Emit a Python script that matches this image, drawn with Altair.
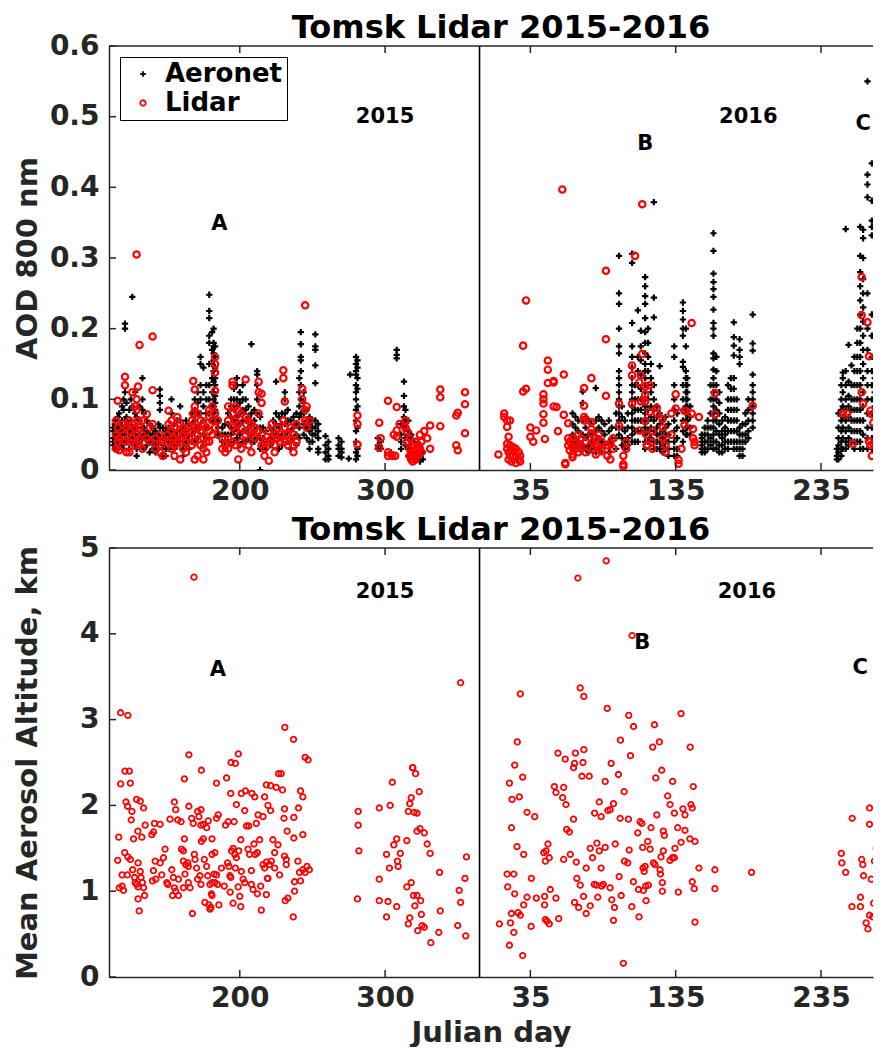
import altair as alt
import pandas as pd

YEAR_SHIFT = 365  # 2016 day d is plotted at d + 365

# ---------------- Top panel: AOD 800 nm ----------------
# Aeronet 2015: (day, [AOD values])
AER_2015 = [
    (113, [0.045, 0.055, 0.06, 0.04, 0.035]), (114, [0.07, 0.05, 0.065, 0.03]),
    (116, [0.048, 0.06, 0.075, 0.04, 0.03]), (117, [0.055, 0.08, 0.065, 0.045]),
    (119, [0.09, 0.06, 0.05, 0.07, 0.035]), (120, [0.1, 0.085, 0.06, 0.04, 0.03]),
    (121, [0.207, 0.2, 0.11, 0.07, 0.05, 0.045]), (122, [0.095, 0.075, 0.06, 0.04]),
    (124, [0.085, 0.065, 0.05, 0.03]), (125, [0.1, 0.07, 0.055, 0.04]),
    (126, [0.245, 0.09, 0.06, 0.045]), (128, [0.11, 0.08, 0.06, 0.05, 0.035]),
    (129, [0.075, 0.06, 0.04, 0.03, 0.02]), (131, [0.09, 0.07, 0.05, 0.04]),
    (133, [0.13, 0.1, 0.085, 0.06, 0.045]), (134, [0.08, 0.06, 0.05, 0.03]),
    (136, [0.07, 0.055, 0.045, 0.035]), (138, [0.065, 0.05, 0.04, 0.025]),
    (140, [0.06, 0.05, 0.04, 0.03]), (142, [0.055, 0.045, 0.035, 0.025]),
    (144, [0.065, 0.05, 0.04, 0.03]), (145, [0.114, 0.105, 0.095, 0.085, 0.06, 0.045]),
    (147, [0.06, 0.045, 0.035, 0.02]), (149, [0.055, 0.045, 0.03, 0.02]),
    (151, [0.06, 0.05, 0.04, 0.03]), (153, [0.1, 0.08, 0.055, 0.045, 0.035]),
    (155, [0.065, 0.05, 0.04, 0.03]), (157, [0.07, 0.055, 0.045, 0.035]),
    (159, [0.09, 0.07, 0.055, 0.04]), (161, [0.06, 0.05, 0.04, 0.03, 0.02]),
    (163, [0.07, 0.055, 0.045, 0.035]), (165, [0.065, 0.05, 0.04, 0.03]),
    (167, [0.08, 0.065, 0.05, 0.04]), (169, [0.1, 0.085, 0.07, 0.055, 0.04]),
    (171, [0.11, 0.095, 0.08, 0.06, 0.045]), (173, [0.16, 0.15, 0.12, 0.1, 0.08, 0.06]),
    (175, [0.145, 0.11, 0.09, 0.07, 0.05, 0.035]), (177, [0.12, 0.1, 0.08, 0.06, 0.045]),
    (179, [0.248, 0.225, 0.215, 0.19, 0.18, 0.15, 0.12, 0.1, 0.08]),
    (181, [0.195, 0.17, 0.15, 0.13, 0.11, 0.09, 0.07]),
    (182, [0.2, 0.18, 0.175, 0.165, 0.155, 0.14, 0.125, 0.11, 0.1, 0.09, 0.08]),
    (183, [0.175, 0.16, 0.145, 0.13, 0.12, 0.105, 0.095, 0.085, 0.07]),
    (185, [0.07, 0.06, 0.05]), (188, [0.06, 0.05, 0.04]), (190, [0.065, 0.05, 0.04, 0.03]),
    (192, [0.08, 0.065, 0.05, 0.04]), (194, [0.1, 0.09, 0.075, 0.06, 0.05, 0.035]),
    (196, [0.115, 0.1, 0.085, 0.07, 0.055, 0.04]), (198, [0.13, 0.12, 0.1, 0.09, 0.075, 0.06, 0.045]),
    (200, [0.11, 0.095, 0.08, 0.065, 0.05, 0.035]), (202, [0.12, 0.1, 0.085, 0.07, 0.055, 0.04]),
    (204, [0.1, 0.085, 0.07, 0.055, 0.04]), (206, [0.09, 0.075, 0.06, 0.045]),
    (208, [0.178, 0.08, 0.065, 0.05, 0.04]), (210, [0.085, 0.07, 0.055, 0.04]),
    (212, [0.14, 0.135, 0.12, 0.1, 0.08, 0.06, 0.045]), (214, [0.075, 0.06, 0.045, 0.03, 0.0]),
    (216, [0.06, 0.045, 0.035]), (218, [0.055, 0.04, 0.03]), (221, [0.06, 0.045, 0.035]),
    (223, [0.07, 0.055, 0.04]), (225, [0.125, 0.08, 0.065, 0.05]), (227, [0.075, 0.06, 0.045, 0.03]),
    (229, [0.08, 0.065, 0.05, 0.035]), (231, [0.11, 0.1, 0.08, 0.065, 0.05]),
    (233, [0.085, 0.07, 0.055, 0.04]), (235, [0.07, 0.055, 0.04, 0.03]), (237, [0.075, 0.06, 0.045]),
    (239, [0.08, 0.065, 0.05, 0.035]), (241, [0.13, 0.11, 0.09, 0.075, 0.06, 0.045]),
    (242, [0.195, 0.178, 0.16, 0.155, 0.14, 0.12, 0.1, 0.08]), (244, [0.11, 0.095, 0.08, 0.065, 0.05]),
    (246, [0.085, 0.07, 0.06, 0.045]), (248, [0.075, 0.065, 0.055, 0.04, 0.03]),
    (250, [0.07, 0.06, 0.05, 0.04]), (252, [0.192, 0.175, 0.17, 0.148, 0.123, 0.07, 0.06, 0.05]),
    (254, [0.065, 0.055, 0.045, 0.03, 0.025]), (259, [0.048, 0.035, 0.025, 0.015]),
    (261, [0.04, 0.03, 0.02, 0.015]), (268, [0.045, 0.035, 0.03, 0.02]),
    (270, [0.04, 0.03, 0.025, 0.018]), (275, [0.016]), (276, [0.135]),
    (280, [0.16, 0.15, 0.14, 0.135, 0.12, 0.11, 0.1, 0.085, 0.07, 0.055, 0.04, 0.025, 0.015]),
    (281, [0.155, 0.145, 0.13, 0.115, 0.09, 0.06, 0.03, 0.02]),
    (295, [0.045, 0.035, 0.03]), (297, [0.04, 0.03]), (304, [0.025, 0.02]),
    (308, [0.17, 0.163, 0.158]), (311, [0.065, 0.05, 0.04, 0.03]),
    (313, [0.125, 0.105, 0.09, 0.075, 0.06]), (314, [0.085, 0.07, 0.06, 0.045, 0.035]),
    (316, [0.07, 0.055, 0.045, 0.03, 0.02]), (318, [0.05, 0.04, 0.03, 0.02]),
    (320, [0.04, 0.03, 0.02, 0.015]), (322, [0.035, 0.025, 0.015]),
    (324, [0.03, 0.02, 0.012]), (326, [0.025, 0.015]),
]

# Aeronet 2016: (day, [AOD values])
AER_2016 = [
    (64, [0.08, 0.065, 0.05, 0.04, 0.03]), (66, [0.075, 0.06, 0.045, 0.035]),
    (68, [0.07, 0.055, 0.04, 0.03]), (71, [0.111, 0.095, 0.07, 0.05, 0.035]),
    (73, [0.075, 0.06, 0.045, 0.03]), (75, [0.07, 0.05, 0.035, 0.025]),
    (77, [0.065, 0.05, 0.04, 0.03]), (80, [0.116, 0.07, 0.055, 0.04, 0.025]),
    (82, [0.075, 0.06, 0.045, 0.03]), (84, [0.07, 0.055, 0.04, 0.025]),
    (86, [0.065, 0.05, 0.035]), (89, [0.07, 0.055, 0.04, 0.025]), (91, [0.06, 0.045, 0.035]),
    (94, [0.08, 0.06, 0.045, 0.03]),
    (96, [0.303, 0.25, 0.235, 0.2, 0.175, 0.165, 0.14, 0.13, 0.12, 0.11, 0.1, 0.09, 0.08, 0.07, 0.06, 0.05]),
    (98, [0.09, 0.075, 0.06, 0.045, 0.035]), (100, [0.07, 0.055, 0.04, 0.03]),
    (102, [0.08, 0.06, 0.045, 0.035]),
    (105, [0.306, 0.293, 0.208, 0.175, 0.16, 0.145, 0.13, 0.12, 0.11, 0.1, 0.09, 0.08, 0.07, 0.06, 0.05, 0.04]),
    (107, [0.12, 0.1, 0.085, 0.07, 0.055, 0.04]),
    (109, [0.226, 0.16, 0.14, 0.12, 0.1, 0.085, 0.07, 0.055, 0.04]),
    (111, [0.197, 0.175, 0.155, 0.135, 0.115, 0.1, 0.085, 0.07, 0.055]),
    (114, [0.273, 0.26, 0.246, 0.235, 0.215, 0.195, 0.18, 0.165, 0.15, 0.14, 0.13, 0.12, 0.11,
           0.1, 0.09, 0.08, 0.07, 0.06, 0.05, 0.04, 0.03]),
    (116, [0.2, 0.18, 0.16, 0.14, 0.12, 0.1, 0.085, 0.07, 0.055, 0.04]),
    (118, [0.15, 0.13, 0.11, 0.09, 0.075, 0.06, 0.045]),
    (120, [0.379, 0.244, 0.216, 0.12, 0.1, 0.085, 0.07, 0.055, 0.04, 0.03]),
    (122, [0.09, 0.075, 0.06, 0.05, 0.04, 0.03]), (124, [0.147, 0.08, 0.065, 0.05, 0.04, 0.03]),
    (126, [0.07, 0.055, 0.045, 0.035, 0.025]), (128, [0.075, 0.06, 0.05, 0.04, 0.03]),
    (130, [0.065, 0.05, 0.04, 0.03, 0.02]),
    (134, [0.175, 0.16, 0.12, 0.1, 0.085, 0.07, 0.055, 0.04, 0.03, 0.02]),
    (136, [0.08, 0.06, 0.045, 0.03, 0.02]),
    (140, [0.237, 0.225, 0.213, 0.2, 0.19, 0.153, 0.146, 0.12, 0.1, 0.085, 0.07, 0.055, 0.04]),
    (142, [0.2, 0.175, 0.14, 0.13, 0.12, 0.11, 0.1, 0.09, 0.08, 0.07, 0.06, 0.05]),
    (143, [0.13, 0.12, 0.11, 0.1, 0.09, 0.08, 0.07, 0.06, 0.05]),
    (145, [0.09, 0.075, 0.06, 0.05]), (153, [0.05, 0.045, 0.04, 0.035, 0.03, 0.025]),
    (155, [0.06, 0.05, 0.04, 0.03, 0.025]), (157, [0.07, 0.06, 0.05, 0.04, 0.03]),
    (159, [0.12, 0.1, 0.08, 0.06, 0.045, 0.035]),
    (161, [0.335, 0.31, 0.278, 0.266, 0.256, 0.245, 0.227, 0.208, 0.2, 0.19, 0.165, 0.158, 0.142,
           0.13, 0.12, 0.11, 0.1, 0.09, 0.08, 0.07, 0.06, 0.05, 0.04, 0.03]),
    (163, [0.16, 0.14, 0.12, 0.1, 0.085, 0.07, 0.055, 0.04, 0.03]),
    (165, [0.11, 0.095, 0.08, 0.065, 0.05, 0.035, 0.025]), (167, [0.07, 0.055, 0.045, 0.035, 0.025]),
    (169, [0.075, 0.06, 0.05, 0.04, 0.03]), (171, [0.12, 0.1, 0.085, 0.07, 0.055, 0.04, 0.03]),
    (173, [0.13, 0.115, 0.1, 0.085, 0.07, 0.055, 0.04]),
    (175, [0.209, 0.188, 0.176, 0.162, 0.13, 0.115, 0.1, 0.085, 0.07, 0.055, 0.04, 0.03]),
    (177, [0.1, 0.085, 0.07, 0.055, 0.04, 0.03]),
    (179, [0.185, 0.17, 0.16, 0.15, 0.06, 0.05, 0.04, 0.03, 0.02]),
    (181, [0.065, 0.05, 0.04, 0.03, 0.02]), (183, [0.08, 0.065, 0.05, 0.04]),
    (185, [0.1, 0.085, 0.07, 0.055, 0.045]),
    (188, [0.22, 0.179, 0.169, 0.135, 0.12, 0.11, 0.1, 0.09, 0.08, 0.07, 0.06]),
    (246, [0.03, 0.02, 0.015]), (247, [0.08, 0.06, 0.045, 0.035, 0.025, 0.015]),
    (249, [0.12, 0.1, 0.085, 0.07, 0.055, 0.04, 0.03, 0.02]),
    (250, [0.138, 0.13, 0.11, 0.09, 0.075, 0.06, 0.045, 0.03]),
    (252, [0.341, 0.14, 0.12, 0.1, 0.085, 0.07, 0.055, 0.04, 0.03]),
    (254, [0.177, 0.125, 0.105, 0.09, 0.075, 0.06, 0.045, 0.035]),
    (256, [0.148, 0.12, 0.1, 0.085, 0.07, 0.055, 0.04]),
    (258, [0.16, 0.14, 0.12, 0.1, 0.085, 0.07, 0.055, 0.04, 0.03]),
    (260, [0.2, 0.18, 0.16, 0.14, 0.12, 0.1, 0.085, 0.07, 0.055, 0.04]),
    (262, [0.344, 0.303, 0.28, 0.26, 0.24, 0.22, 0.2, 0.18, 0.16, 0.14, 0.12, 0.1, 0.085, 0.07,
           0.055, 0.04, 0.03]),
    (264, [0.34, 0.328, 0.3, 0.27, 0.25, 0.23, 0.21, 0.19, 0.17, 0.15, 0.13, 0.11, 0.09, 0.07, 0.05, 0.03]),
    (267, [0.55, 0.418, 0.404, 0.386, 0.25, 0.2, 0.17, 0.14, 0.12, 0.1, 0.08, 0.06, 0.045, 0.03]),
    (270, [0.434, 0.381, 0.353, 0.344, 0.332, 0.22, 0.19, 0.16, 0.14, 0.12, 0.1, 0.08, 0.06, 0.045, 0.03]),
    (272, [0.13, 0.11, 0.09, 0.075, 0.06, 0.045, 0.035, 0.025]),
]

# Lidar 2015: (day, [AOD values])
LID_2015 = [
    (115, [0.07, 0.05, 0.03]), (116, [0.098, 0.06, 0.04]), (117, [0.045, 0.028]),
    (120, [0.065, 0.05]), (121, [0.132, 0.12, 0.04]), (122, [0.06, 0.025]),
    (124, [0.07, 0.055, 0.04, 0.025]), (126, [0.11, 0.065, 0.045]), (128, [0.09, 0.06, 0.035]),
    (129, [0.305, 0.1, 0.085, 0.05]), (130, [0.118, 0.07]), (131, [0.177, 0.06, 0.045, 0.035]),
    (133, [0.07, 0.05, 0.03]), (136, [0.079, 0.045]), (138, [0.06, 0.04]),
    (140, [0.189, 0.113, 0.065]), (142, [0.045, 0.03]), (145, [0.05, 0.035, 0.025]),
    (147, [0.02, 0.04]), (150, [0.05, 0.04]), (151, [0.084, 0.065]), (153, [0.07, 0.055, 0.03]),
    (155, [0.06, 0.045, 0.035, 0.02]), (157, [0.075, 0.05, 0.04]), (159, [0.065, 0.045, 0.015]),
    (161, [0.06, 0.05, 0.03]), (163, [0.055, 0.04, 0.025]), (165, [0.06, 0.045]),
    (167, [0.07, 0.055, 0.035]), (168, [0.126, 0.08]), (169, [0.114, 0.09, 0.06, 0.04, 0.015]),
    (171, [0.08, 0.06, 0.05, 0.02]), (173, [0.07, 0.055, 0.035]), (175, [0.065, 0.045, 0.03, 0.015]),
    (177, [0.06, 0.04, 0.025]), (179, [0.085, 0.075, 0.055, 0.04]), (181, [0.09, 0.07, 0.05]),
    (183, [0.16, 0.15, 0.138, 0.112, 0.08, 0.06]), (185, [0.07, 0.05]), (188, [0.045, 0.03]),
    (190, [0.035, 0.025]), (192, [0.09, 0.07, 0.045, 0.03]), (195, [0.125, 0.12, 0.08, 0.06, 0.04]),
    (197, [0.09, 0.07, 0.055, 0.035]), (199, [0.085, 0.065, 0.015]), (201, [0.08, 0.06, 0.04, 0.03]),
    (204, [0.128, 0.075, 0.05]), (206, [0.07, 0.055, 0.035]), (208, [0.065, 0.05, 0.025]),
    (210, [0.06, 0.045]), (213, [0.125, 0.11, 0.08, 0.055]), (215, [0.108, 0.095, 0.05, 0.035]),
    (217, [0.04, 0.03, 0.02]), (220, [0.055, 0.04, 0.013]), (222, [0.065, 0.045]),
    (224, [0.05, 0.035, 0.025]), (226, [0.06, 0.045]), (228, [0.05, 0.04]),
    (230, [0.141, 0.13, 0.07]), (231, [0.097, 0.06, 0.04]), (233, [0.05, 0.035]),
    (235, [0.06, 0.045]), (237, [0.05, 0.035, 0.025]), (239, [0.065, 0.04]),
    (243, [0.115, 0.1]), (245, [0.233, 0.085, 0.07]), (246, [0.09, 0.06]), (248, [0.07]),
    (281, [0.077, 0.065, 0.036]), (296, [0.067, 0.032]), (297, [0.045]),
    (302, [0.098, 0.025, 0.02]), (305, [0.02]), (306, [0.05]), (307, [0.02]),
    (308, [0.089, 0.056, 0.047]), (310, [0.065]), (314, [0.07, 0.06]), (315, [0.055, 0.04]),
    (317, [0.045, 0.03, 0.02]), (318, [0.025, 0.015]), (319, [0.035, 0.02, 0.012]),
    (320, [0.028, 0.018]), (321, [0.04, 0.025, 0.015]), (322, [0.03, 0.02]),
    (323, [0.035, 0.022]), (324, [0.05, 0.03]), (325, [0.04, 0.025]), (327, [0.055]),
    (329, [0.045]), (331, [0.063, 0.03]), (338, [0.114, 0.103, 0.062]),
    (349, [0.077, 0.035]), (350, [0.081, 0.028]), (355, [0.11, 0.093, 0.052]),
]

# Lidar 2016: (day, [AOD values])
LID_2016 = [
    (13, [0.022]), (17, [0.08, 0.075]), (19, [0.07, 0.061, 0.037, 0.03]), (20, [0.047, 0.025, 0.015]),
    (21, [0.07, 0.035, 0.02]), (22, [0.028, 0.012]), (23, [0.032, 0.02]), (25, [0.03, 0.018, 0.01]),
    (27, [0.025, 0.015]), (28, [0.02, 0.012]), (30, [0.176, 0.111]), (32, [0.24, 0.115]),
    (35, [0.06, 0.047]), (37, [0.04]), (39, [0.056]), (44, [0.107, 0.1, 0.094, 0.079, 0.067]),
    (45, [0.044]), (47, [0.142, 0.155, 0.123]), (51, [0.124, 0.126, 0.09]), (53, [0.089]),
    (54, [0.055]), (57, [0.397]), (58, [0.135, 0.078]), (59, [0.008, 0.01]),
    (61, [0.066, 0.045, 0.035]), (62, [0.028, 0.04]), (64, [0.032, 0.045, 0.022, 0.018]),
    (66, [0.04, 0.03]), (68, [0.05, 0.035, 0.025]), (70, [0.045, 0.03]),
    (72, [0.116, 0.091, 0.075, 0.07]), (73, [0.04, 0.025]), (77, [0.13, 0.068, 0.058, 0.052]),
    (78, [0.04, 0.03]), (80, [0.045, 0.035, 0.022]), (82, [0.05, 0.03]), (84, [0.04, 0.028]),
    (87, [0.282, 0.185, 0.105]), (88, [0.035, 0.02]), (90, [0.038, 0.015]), (92, [0.045, 0.03]),
    (96, [0.063, 0.094]), (99, [0.005, 0.008, 0.02]), (101, [0.04, 0.03]),
    (105, [0.094, 0.148, 0.134]), (107, [0.303]), (110, [0.124, 0.056]), (111, [0.097, 0.134]),
    (112, [0.164, 0.376]), (114, [0.069, 0.107, 0.118, 0.097]), (115, [0.05, 0.035]),
    (117, [0.12, 0.082]), (119, [0.04, 0.03, 0.055]), (122, [0.088, 0.08]),
    (126, [0.072, 0.06, 0.045]), (128, [0.035, 0.025]), (132, [0.08, 0.05]), (135, [0.107, 0.087]),
    (137, [0.014, 0.009]), (139, [0.03]), (141, [0.084, 0.064]), (142, [0.083]),
    (146, [0.208, 0.08]), (147, [0.058, 0.045]), (148, [0.04, 0.035]), (151, [0.075]),
    (162, [0.109, 0.079]), (188, [0.091]), (250, [0.08]), (253, [0.08]), (257, [0.037]),
    (263, [0.273, 0.219, 0.11]), (264, [0.094]), (267, [0.209]), (268, [0.161, 0.041]),
    (269, [0.084, 0.035]), (270, [0.079, 0.02]), (271, [0.067, 0.037]), (275, [0.034]),
]

# ---------------- Bottom panel: mean aerosol altitude (km) ----------------
ALT_2015 = [
    (168.5, 4.66), (352, 3.43), (118, 3.08), (123, 3.05), (231, 2.91), (237, 2.77), (165, 2.59),
    (199, 2.6), (194, 2.5), (197, 2.49), (245, 2.56), (247, 2.53), (319, 2.44),
    (116.7, 1.63), (116, 1.36), (117, 1.04), (119, 1.06), (120, 1.01), (118, 2.25), (121, 2.4),
    (124, 2.4), (124.7, 2.26), (121.7, 2.04), (122.8, 1.99), (125.8, 1.93), (125.3, 1.83),
    (126.9, 1.61), (120.8, 1.45), (123, 1.4), (119, 1.19), (122.6, 1.19), (124.7, 1.37),
    (126.3, 1.25), (127.6, 1.16), (128, 1.1), (129, 1.08), (130, 1.05), (130, 0.91), (130.8, 0.77),
    (129, 2.07), (131.5, 2.05), (129.9, 1.7), (132.6, 1.63), (130, 1.33), (131.5, 1.23),
    (132, 1.16), (133, 1.1), (133.8, 1.04), (133.8, 1.97), (134.9, 1.77), (134.5, 0.95),
    (139.5, 1.66), (140.6, 1.69), (141.3, 1.79), (141.8, 1.35), (140.6, 1.24), (139.9, 1.12),
    (142.2, 1.14), (145.2, 1.78), (145.2, 1.33), (148.6, 1.49), (147.5, 1.39), (146.3, 1.19),
    (149.8, 1.1), (150.5, 1.08), (152, 1.84), (153.2, 1.25), (154.3, 1.16), (155, 2.04),
    (155.9, 1.95), (155, 1.04), (155.9, 1.0), (153.7, 0.95), (157.8, 0.95), (157.3, 1.83),
    (159.6, 1.81), (157.8, 1.14), (159.9, 1.49), (161.2, 1.47), (161.9, 2.31), (161.9, 1.61),
    (161.2, 1.35), (162.8, 1.31), (164.2, 1.33), (162.3, 1.2), (164.6, 1.29), (161.2, 1.04),
    (164.6, 1.1), (165, 1.99), (165.8, 1.04), (167.4, 0.74), (166.9, 1.85), (168, 1.79),
    (168.7, 1.43), (169.2, 1.37), (170.3, 1.27), (171, 1.14), (172.6, 1.18), (171, 1.93),
    (171.9, 1.87), (173.3, 1.95), (173.3, 1.77), (174.9, 1.78), (173.6, 2.41), (173.3, 1.08),
    (173.6, 1.58), (174.9, 1.61), (175.6, 1.37), (176, 0.87), (177.2, 1.74), (178.3, 1.82),
    (177.2, 1.29), (177.9, 1.18), (178.8, 0.84), (180.1, 0.81), (179.5, 0.79), (179.5, 1.08),
    (180.9, 1.1), (180.5, 0.97), (180.9, 0.95), (180.9, 1.61), (180.9, 1.43), (182.9, 1.45),
    (182.4, 1.2), (184, 1.19), (184, 2.26), (184, 1.85), (185.2, 1.89), (182.9, 1.1),
    (184.7, 1.08), (185.6, 0.84), (187.4, 1.27), (189.3, 1.06), (190.2, 1.77), (190.9, 2.32),
    (191.6, 1.33), (192, 1.81), (192.5, 1.29), (193.2, 1.18), (193.8, 1.16), (193.8, 2.14),
    (193.4, 0.99), (194.3, 1.47), (195.4, 1.5), (196.1, 1.81), (195.4, 0.86), (196.6, 1.43),
    (197.7, 1.39), (197, 1.27), (197.7, 2.01), (198.9, 1.05), (199.3, 1.47), (200, 0.94),
    (200.7, 0.82), (200.7, 1.6), (201.1, 1.23), (202.3, 1.14), (201.1, 2.14), (203.4, 1.94),
    (203.4, 1.1), (203.9, 2.17), (204.6, 1.76), (206.2, 1.76), (205.7, 1.49), (206.8, 1.43),
    (208, 1.08), (208, 1.24), (208.4, 2.14), (209.1, 1.02), (209.8, 1.55), (210.3, 2.1),
    (210.7, 1.43), (212.1, 1.45), (211.4, 1.79), (212.1, 0.97), (212.6, 1.89), (213.7, 1.6),
    (214.4, 1.06), (214.8, 0.78), (216, 1.87), (216, 1.31), (217.1, 1.27), (218.3, 1.34),
    (217.1, 2.1), (218.3, 2.24), (221.2, 2.23), (219, 1.15), (219.4, 1.15), (218.3, 0.96),
    (219.4, 2.0), (221.2, 1.94), (221.7, 1.35), (220.5, 1.31), (222.8, 1.6), (224, 1.27),
    (224, 1.45), (225.1, 2.21), (226.3, 1.54), (226.7, 2.37), (228.5, 2.37), (227.4, 1.19),
    (229.4, 2.18), (230.4, 1.85), (230.8, 1.96), (230.8, 1.41), (232, 1.37), (232, 1.31),
    (232.6, 1.7), (231.3, 0.89), (233.1, 0.92), (236.8, 0.7), (237.2, 1.86), (237.7, 1.0),
    (237.7, 1.11), (237.2, 1.62), (240, 1.35), (240.4, 1.97), (241.1, 1.22), (241.8, 1.12),
    (241.8, 2.17), (243.4, 2.1), (243.4, 1.66), (243.4, 1.25), (245, 1.22), (246.3, 1.29),
    (247.9, 1.25),
    (281.5, 1.93), (281.5, 1.77), (282, 1.47), (281, 0.91), (296, 1.97), (296, 1.14), (296, 0.89),
    (301, 1.43), (302, 0.88), (301, 0.7), (303, 1.27), (303.5, 2.0), (305, 2.27), (306, 1.54),
    (308, 1.61), (308, 0.82), (308.5, 1.35), (309, 1.29), (310.5, 1.44), (315, 1.59), (315, 1.05),
    (316, 1.93), (317, 2.02), (318, 2.09), (316, 0.62), (317, 0.69), (318, 1.1), (319, 2.44),
    (321, 2.37), (319.5, 0.95), (322, 0.95), (320, 1.92), (322, 1.91), (320.5, 0.83), (322, 1.7),
    (322.5, 0.54), (323.5, 2.16), (324, 1.73), (324.5, 0.89), (325, 0.73), (325.5, 0.6),
    (327, 0.58), (327, 1.68), (329, 1.55), (331, 1.44), (331.5, 0.4), (337, 0.52), (337.5, 1.22),
    (338, 0.77), (350, 0.6), (351, 1.01), (352, 0.87), (355, 1.15), (356, 1.4), (355.5, 0.48),
]

ALT_2016 = [
    (87.2, 4.85), (67.7, 4.65), (105, 3.98), (28.1, 3.3), (69.3, 3.37), (71.8, 3.27), (87.9, 3.13),
    (102.7, 3.05), (106, 2.92), (120.4, 2.94), (138.7, 3.07), (26, 2.74), (97, 2.76), (123.8, 2.74),
    (119.2, 2.68), (145, 2.68), (24.2, 2.47), (54, 2.61), (59, 2.54), (66, 2.61), (71.8, 2.65),
    (65.4, 2.49), (71.2, 2.5), (90.6, 2.49), (103.9, 2.58), (64.7, 2.44),
    (29.7, 2.33), (20.6, 2.26), (22.4, 2.07), (27.4, 2.1), (32.7, 1.92), (38, 1.87), (22, 1.74),
    (70.5, 2.34), (75.5, 2.34), (86.5, 2.28), (95.6, 2.36), (99.5, 2.16), (51.5, 2.22), (57.9, 2.21),
    (52.6, 2.15), (57.2, 2.09), (59.5, 2.01), (64.7, 1.84), (60, 1.72), (61.8, 1.69), (82.4, 2.04),
    (92.2, 2.02), (79.2, 1.91), (83.7, 1.87), (88.3, 1.94), (89.9, 1.95), (96.8, 1.85),
    (102.5, 1.84), (110.5, 1.81), (111.7, 1.79), (108.9, 1.68), (118, 1.74), (121.3, 2.32),
    (125.4, 2.41), (122, 1.89), (132.9, 2.28), (129.5, 2.11), (131.1, 2.01), (134.1, 1.91),
    (136.4, 1.74), (141.4, 1.71), (140, 1.96), (141.4, 1.89), (145.5, 2.01), (146.4, 1.97),
    (147.1, 2.22), (144.8, 1.61), (148.3, 1.58), (126.5, 1.7), (127.2, 1.65), (25.8, 1.52),
    (30.4, 1.43), (19, 1.2), (23.6, 1.2), (19.4, 1.05), (24.2, 0.97), (22, 0.74), (26.5, 0.75),
    (28.1, 0.72), (30.4, 0.84), (13.7, 0.62), (21.3, 0.63), (23.6, 0.52), (20.6, 0.37), (29.7, 0.25),
    (35.5, 0.59), (35.7, 1.15), (32.7, 0.93), (39.1, 0.92), (44.2, 1.45), (45.8, 1.47), (47.1, 1.55),
    (45.3, 1.35), (48, 1.39), (44.8, 0.94), (44.8, 0.84), (45.3, 0.67), (48, 0.62), (46.5, 0.65),
    (48.7, 1.02), (52.6, 0.92), (54.5, 0.68), (57.9, 1.37), (62.5, 1.43), (66.6, 1.34), (67, 1.15),
    (69.3, 1.07), (65.4, 0.87), (68.2, 0.81), (71.6, 0.94), (73.4, 1.27), (73.4, 0.74), (76.2, 0.83),
    (76.2, 1.5), (80.8, 1.56), (82.4, 1.47), (86.5, 1.51), (77.8, 1.39), (83.7, 1.27), (79, 1.08),
    (80.5, 1.07), (84, 1.06), (85.2, 1.08), (81.4, 0.93), (89.9, 1.04), (91, 0.9), (92.9, 0.81),
    (92.2, 0.66), (93.4, 1.55), (96.1, 1.17), (97.5, 0.95), (99.8, 1.35), (102, 1.33), (103, 1.48),
    (99, 0.16), (104.8, 0.82), (105.9, 1.11), (109.4, 1.02), (109.8, 0.7), (112.8, 1.01),
    (114.4, 1.06), (112.3, 1.51), (115.8, 1.58), (117.4, 1.49), (112.5, 1.27), (114, 1.29),
    (113.3, 1.23), (116.2, 1.07), (114.6, 0.89), (119.7, 1.33), (120.8, 1.31), (124.2, 1.25),
    (124.5, 1.2), (124.9, 1.4), (125.8, 1.1), (125.8, 1.0), (126.5, 1.47), (131.1, 1.36),
    (132.7, 1.39), (134.1, 1.39), (134.5, 1.5), (136.8, 0.99), (138.7, 1.57), (146.4, 1.11),
    (147.8, 1.03), (148.3, 0.64), (151, 1.27), (162, 1.25), (162, 1.03), (187.2, 1.22),
    (256.5, 1.85), (249, 1.44), (249.4, 1.33), (252, 1.22), (256.3, 0.82), (262.2, 0.82),
    (262.2, 0.93), (263, 1.37), (263.8, 1.31), (264.3, 1.18), (268.4, 1.97), (273, 1.97),
    (268.4, 1.78), (273, 1.5), (271.8, 1.35), (269.6, 1.14), (271.2, 0.86), (268.4, 0.72),
    (270.6, 0.7), (266.1, 0.63), (267.3, 0.56),
]

# Annotations: (label, year shift, day, value)
ANNOT_TOP = [("2015", 0, 300, 0.50), ("2016", YEAR_SHIFT, 185, 0.50), ("A", 0, 186, 0.348),
             ("B", YEAR_SHIFT, 114, 0.461), ("C", YEAR_SHIFT, 264, 0.49)]
ANNOT_BOT = [("2015", 0, 300, 4.49), ("2016", YEAR_SHIFT, 184, 4.49), ("A", 0, 185, 3.58),
             ("B", YEAR_SHIFT, 112, 3.89), ("C", YEAR_SHIFT, 262, 3.6)]

SERIES = ["Aeronet", "Lidar"]
COLORS = ["black", "red"]
PLUS = "M-1,0H1M0,-1V1"
SHAPES = [PLUS, "circle"]

X_TICKS = [200, 300, 35 + YEAR_SHIFT, 135 + YEAR_SHIFT, 235 + YEAR_SHIFT]
X_DOMAIN = [110, 635.8]
Y_TICKS_TOP = [0, 0.1, 0.2, 0.3, 0.4, 0.5, 0.6]
Y_TICKS_BOT = [0, 1, 2, 3, 4, 5]
YEAR_BOUNDARY = [YEAR_SHIFT]

# ---------------- data tables ----------------
def grouped(groups, shift, series):
    return [{"t": d + shift, "v": v, "series": series} for d, vals in groups for v in vals]

def pairs(items, shift):
    return [{"t": d + shift, "v": v} for d, v in items]

top_df = pd.DataFrame(grouped(AER_2015, 0, "Aeronet") + grouped(AER_2016, YEAR_SHIFT, "Aeronet")
                      + grouped(LID_2015, 0, "Lidar") + grouped(LID_2016, YEAR_SHIFT, "Lidar"))
bot_df = pd.DataFrame(pairs(ALT_2015, 0) + pairs(ALT_2016, YEAR_SHIFT))

def annot_df(items):
    return pd.DataFrame([{"label": l, "t": d + s, "v": v} for l, s, d, v in items])

W = 764
H_TOP, H_BOT = 424, 429
FONT = "DejaVu Sans"
INK = "#262626"
LABEL_EXPR = f"datum.value > {YEAR_SHIFT} ? datum.value - {YEAR_SHIFT} : datum.value"

xscale = alt.Scale(domain=X_DOMAIN, nice=False, zero=False)


def panel(points, y_title, y_dom, y_ticks, x_title, H):
    yscale = alt.Scale(domain=y_dom, nice=False, zero=False)
    xaxis = alt.Axis(values=X_TICKS, labelExpr=LABEL_EXPR, title=x_title, ticks=False, grid=False,
                     labelPadding=7, titlePadding=6, domainColor=INK, domainWidth=1.5, labelFlush=False)
    yaxis = alt.Axis(values=y_ticks, format="~g", title=y_title, ticks=False, grid=False,
                     labelPadding=10, domainColor=INK, domainWidth=1.5,
                     titleX=-73, titleY=H / 2, titleBaseline="alphabetic")
    pts = points.encode(x=alt.X("t:Q", scale=xscale, axis=xaxis),
                        y=alt.Y("v:Q", scale=yscale, axis=yaxis))
    boundary = alt.Chart(pd.DataFrame({"t": YEAR_BOUNDARY})).mark_rule(
        color="black", strokeWidth=1.6).encode(x=alt.X("t:Q", scale=xscale))
    xt = pd.DataFrame({"t": X_TICKS})
    tick_b = alt.Chart(xt).mark_rule(color=INK, strokeWidth=1.5).encode(
        x=alt.X("t:Q", scale=xscale), y=alt.value(H), y2=alt.value(H - 7))
    tick_t = alt.Chart(xt).mark_rule(color=INK, strokeWidth=1.5).encode(
        x=alt.X("t:Q", scale=xscale), y=alt.value(0), y2=alt.value(7))
    tick_l = alt.Chart(pd.DataFrame({"v": y_ticks})).mark_rule(color=INK, strokeWidth=1.5).encode(
        y=alt.Y("v:Q", scale=yscale), x=alt.value(0), x2=alt.value(7))
    frame_top = alt.Chart(pd.DataFrame({"k": [0]})).mark_rule(color=INK, strokeWidth=1.5).encode(
        x=alt.value(0), x2=alt.value(W), y=alt.value(0))
    return [pts, boundary, tick_b, tick_t, tick_l, frame_top], yscale


def texts(items, yscale):
    return alt.Chart(annot_df(items)).mark_text(
        font=FONT, fontSize=21, fontWeight="bold", color="black", align="center", baseline="middle"
    ).encode(x=alt.X("t:Q", scale=xscale), y=alt.Y("v:Q", scale=yscale), text="label:N")


legend = alt.Legend(title=None, orient="top-left", offset=11, padding=4, strokeColor="black",
                    fillColor="white", labelFontSize=26, labelFont=FONT, labelFontWeight="bold",
                    labelColor="black", symbolSize=30, symbolStrokeWidth=1.8, symbolOffset=6,
                    labelOffset=9, rowPadding=3, cornerRadius=0)

top_points = alt.Chart(top_df).mark_point(filled=False, size=40, strokeWidth=2.2, opacity=1,
                                          clip=True).encode(
    color=alt.Color("series:N", scale=alt.Scale(domain=SERIES, range=COLORS), legend=legend),
    shape=alt.Shape("series:N", scale=alt.Scale(domain=SERIES, range=SHAPES), legend=legend),
)
top_layers, top_y = panel(top_points, "AOD 800 nm", [0, 0.6], Y_TICKS_TOP, None, H_TOP)
top = alt.layer(*top_layers, texts(ANNOT_TOP, top_y)).properties(
    width=W, height=H_TOP, title=alt.TitleParams("Tomsk Lidar 2015-2016", dx=10))

bot_points = alt.Chart(bot_df).mark_point(filled=False, size=30, strokeWidth=1.8, opacity=1,
                                          color="red", shape="circle", clip=True)
bot_layers, bot_y = panel(bot_points, "Mean Aerosol Altitude, km", [0, 5], Y_TICKS_BOT,
                          "Julian day", H_BOT)
bottom = alt.layer(*bot_layers, texts(ANNOT_BOT, bot_y)).properties(
    width=W, height=H_BOT, title=alt.TitleParams("Tomsk Lidar 2015-2016", dx=10))

chart = alt.vconcat(top, bottom, spacing=9).properties(
    padding={"left": 4, "top": 4, "right": 0, "bottom": 0}
).configure_view(stroke=None).configure_axis(
    labelFont=FONT, labelFontSize=28, labelFontWeight="bold", labelColor=INK,
    titleFont=FONT, titleFontSize=29, titleFontWeight="bold", titleColor=INK,
).configure_title(font=FONT, fontSize=32, fontWeight="bold", color="black", anchor="middle",
                  offset=-13, frame="group")

chart.save("out.html", embed_options={"renderer": "svg", "actions": False})
